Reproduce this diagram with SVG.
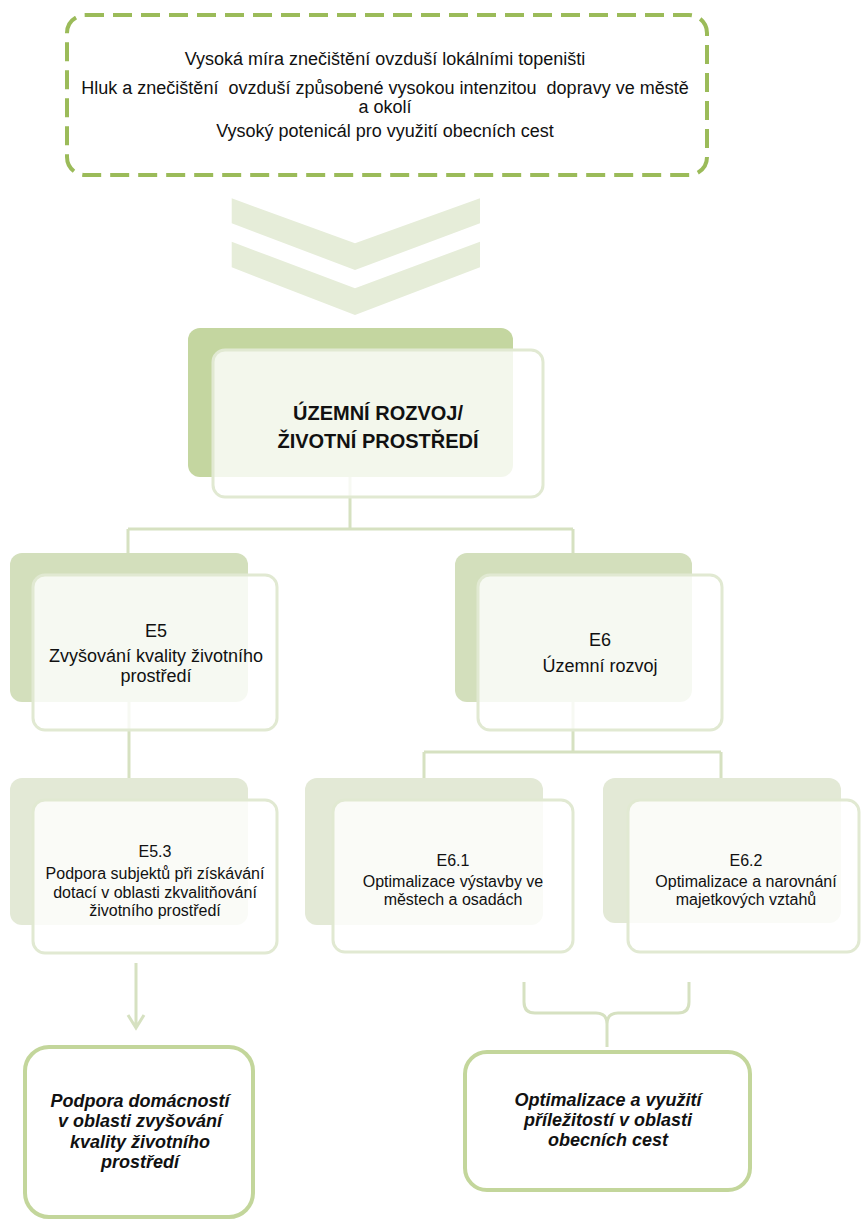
<svg xmlns="http://www.w3.org/2000/svg" width="861" height="1220" viewBox="0 0 861 1220">
<style>
text{font-family:"Liberation Sans",Arial,sans-serif;fill:#111;text-anchor:middle}
.t18{font-size:18px}
.t16{font-size:16px}
.title{font-size:20px;font-weight:bold}
.bi{font-size:18px;font-weight:bold;font-style:italic}
.back1{fill:#c4d6a0}
.back2{fill:#d3dfbc}
.back3{fill:#e3e9d6}
.front{fill:#fff;fill-opacity:0.8;stroke:#e1e9d2;stroke-width:3}
.conn{fill:none;stroke:#d6e1c1;stroke-width:3}
.out{fill:#fff;stroke:#c3d69b;stroke-width:4}
.chev{fill:#e6edd9}
</style>
<rect width="861" height="1220" fill="#fff"/>
<g id="problems">
<rect x="67" y="15" width="640" height="160" rx="18" fill="none" stroke="#9bbb59" stroke-width="4" stroke-dasharray="19 9"/>
<text class="t18" x="385" y="65">Vysoká míra znečištění ovzduší lokálními topeništi</text>
<text class="t18" x="385" y="94" xml:space="preserve">Hluk a znečištění  ovzduší způsobené vysokou intenzitou  dopravy ve městě</text>
<text class="t18" x="385" y="113">a okolí</text>
<text class="t18" x="385" y="137">Vysoký potenicál pro využití obecních cest</text>
</g>
<g id="chevrons">
<polygon class="chev" points="231.7,198.3 355,243.3 480,198.3 480,223.3 355,270 231.7,223.3"/>
<polygon class="chev" points="231.7,241.7 355,288.3 480,241.7 480,267.3 355,315 231.7,267.3"/>
</g>
<g id="connectors">
<path class="conn" d="M350,477 V529 M128,529 H573 M128,529 V553 M573,529 V553"/>
<path class="conn" d="M129,702 V778"/>
<path class="conn" d="M573,702 V752 M424,752 H721 M424,752 V778 M721,752 V778"/>
<path class="conn" d="M136,963 V1028 M128,1015 L136,1028 L144,1015"/>
<path class="conn" d="M524,982 V1002 Q524,1013 535,1013 H596 Q607,1013 607,1024 V1047 M689,982 V1002 Q689,1013 678,1013 H618 Q607,1013 607,1024"/>
</g>
<g id="main">
<rect class="back1" x="188" y="328" width="325" height="149" rx="12"/>
<rect class="front" x="213" y="350" width="330" height="147" rx="12"/>
<text class="title" x="378" y="420">ÚZEMNÍ ROZVOJ/</text>
<text class="title" x="378" y="448">ŽIVOTNÍ PROSTŘEDÍ</text>
</g>
<g id="E5">
<rect class="back2" x="10" y="553" width="238" height="149" rx="12"/>
<rect class="front" x="33" y="575" width="244" height="155" rx="12"/>
<text class="t18" x="156" y="637">E5</text>
<text class="t18" x="156" y="662">Zvyšování kvality životního</text>
<text class="t18" x="156" y="682">prostředí</text>
</g>
<g id="E6">
<rect class="back2" x="455" y="553" width="237" height="149" rx="12"/>
<rect class="front" x="478" y="575" width="244" height="155" rx="12"/>
<text class="t18" x="600" y="646">E6</text>
<text class="t18" x="600" y="672">Územní rozvoj</text>
</g>
<g id="E5.3">
<rect class="back3" x="10" y="778" width="238" height="147" rx="12"/>
<rect class="front" x="33" y="800" width="244" height="153" rx="12"/>
<text class="t16" x="155" y="857">E5.3</text>
<text class="t16" x="155" y="879">Podpora subjektů při získávání</text>
<text class="t16" x="155" y="897.5">dotací v oblasti zkvalitňování</text>
<text class="t16" x="155" y="916">životního prostředí</text>
</g>
<g id="E6.1">
<rect class="back3" x="305" y="778" width="238" height="147" rx="12"/>
<rect class="front" x="333" y="800" width="240" height="152" rx="12"/>
<text class="t16" x="453" y="866">E6.1</text>
<text class="t16" x="453" y="887">Optimalizace výstavby ve</text>
<text class="t16" x="453" y="905">městech a osadách</text>
</g>
<g id="E6.2">
<rect class="back3" x="603" y="778" width="238" height="145" rx="12"/>
<rect class="front" x="628" y="800" width="231" height="152" rx="12"/>
<text class="t16" x="746" y="866">E6.2</text>
<text class="t16" x="746" y="887">Optimalizace a narovnání</text>
<text class="t16" x="746" y="905">majetkových vztahů</text>
</g>
<g id="out1">
<rect class="out" x="25" y="1047" width="228" height="170" rx="24"/>
<text class="bi" x="140" y="1107">Podpora domácností</text>
<text class="bi" x="140" y="1127">v oblasti zvyšování</text>
<text class="bi" x="140" y="1148">kvality životního</text>
<text class="bi" x="140" y="1168">prostředí</text>
</g>
<g id="out2">
<rect class="out" x="465" y="1052" width="285" height="138" rx="22"/>
<text class="bi" x="608" y="1106">Optimalizace a využití</text>
<text class="bi" x="608" y="1126">příležitostí v oblasti</text>
<text class="bi" x="608" y="1146">obecních cest</text>
</g>
</svg>
